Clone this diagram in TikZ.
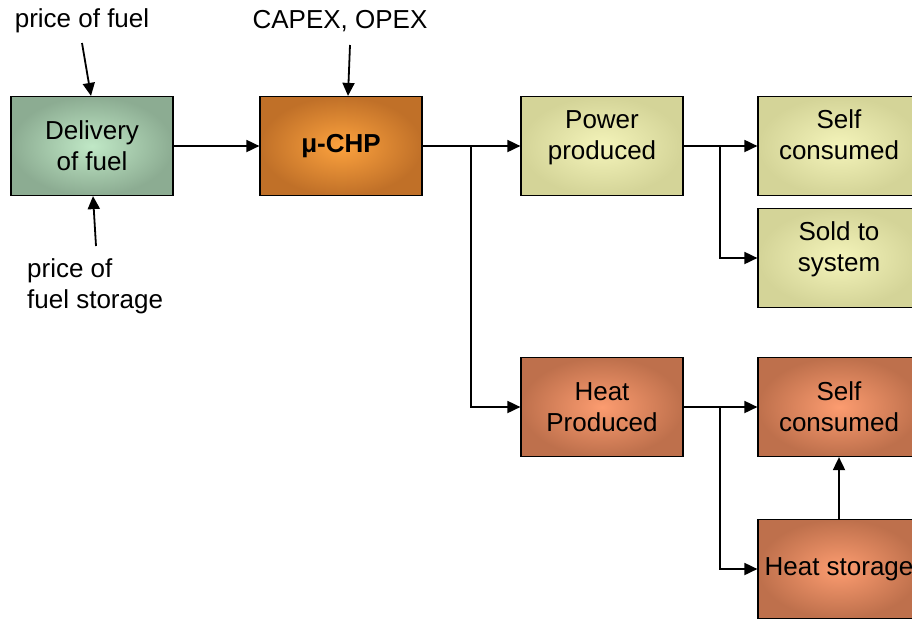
\documentclass[tikz,border=0pt]{standalone}
\usepackage{fontspec}
\setmainfont{Liberation Sans}
\usetikzlibrary{arrows.meta}
\definecolor{fuelout}{RGB}{140,172,146}
\definecolor{fuelin}{RGB}{192,232,198}
\definecolor{chpout}{RGB}{192,112,40}
\definecolor{chpin}{RGB}{252,162,62}
\definecolor{powerout}{RGB}{212,212,152}
\definecolor{powerin}{RGB}{244,244,186}
\definecolor{heatout}{RGB}{190,112,76}
\definecolor{heatin}{RGB}{252,156,112}
\tikzset{
  flowbox/.style={rectangle, draw, line width=1.2pt, minimum width=162pt, minimum height=99pt, inner sep=0pt, align=center, font=\fontsize{26}{31}\selectfont},
  fuelnode/.style={flowbox, inner color=fuelin, outer color=fuelout},
  chpnode/.style={flowbox, inner color=chpin, outer color=chpout},
  powernode/.style={flowbox, inner color=powerin, outer color=powerout, text depth=22pt},
  heatnode/.style={flowbox, inner color=heatin, outer color=heatout},
  costlabel/.style={inner sep=0pt, align=left, font=\fontsize{26}{31}\selectfont},
  flow/.style={-{Triangle[length=13pt,width=12pt]}, line width=1.8pt}
}

\begin{document}
\begin{tikzpicture}[x=1pt, y=-1pt]
  \useasboundingbox (0,0) rectangle (912,619);
  \clip (0,0) rectangle (912,619);

  % boxes
  \node[fuelnode] (fuel) at (92,146) {Delivery\\of fuel};
  \node[chpnode] (chp) at (341,146) {\textbf{μ-CHP}};
  \node[powernode] (power) at (602,146) {Power\\produced};
  \node[powernode] (pself) at (839,146) {Self\\consumed};
  \node[powernode] (sold) at (839,258) {Sold to\\system};
  \node[heatnode] (heat) at (602,407) {Heat\\Produced};
  \node[heatnode] (hself) at (839,407) {Self\\consumed};
  \node[heatnode] (store) at (839,569) {Heat storage};

  % cost labels
  \node[costlabel] (pfuel) at (82,21) {price of fuel};
  \node[costlabel] (capex) at (340,21) {CAPEX, OPEX};
  \node[costlabel, anchor=west] (pstore) at (27,286) {price of\\fuel storage};
  \coordinate (pfueltop) at (82,43);
  \coordinate (capextop) at (350,45);
  \coordinate (pstorebot) at (96,246);

  % connectors
  \draw[flow] (pfueltop) -- ([xshift=-1pt]fuel.north);
  \draw[flow] (capextop) -- ([xshift=7pt]chp.north);
  \draw[flow] (pstorebot) -- ([xshift=1pt]fuel.south);
  \draw[flow] (fuel) -- (chp);
  \draw[flow] (chp) -- (power);
  \draw[flow] (chp.east) -| (471,300) |- (heat.west);
  \draw[flow] (power) -- (pself);
  \draw[flow] (power.east) -| (720,200) |- (sold.west);
  \draw[flow] (heat) -- (hself);
  \draw[flow] (heat.east) -| (720,480) |- (store.west);
  \draw[flow] (store) -- (hself);
\end{tikzpicture}
\end{document}
